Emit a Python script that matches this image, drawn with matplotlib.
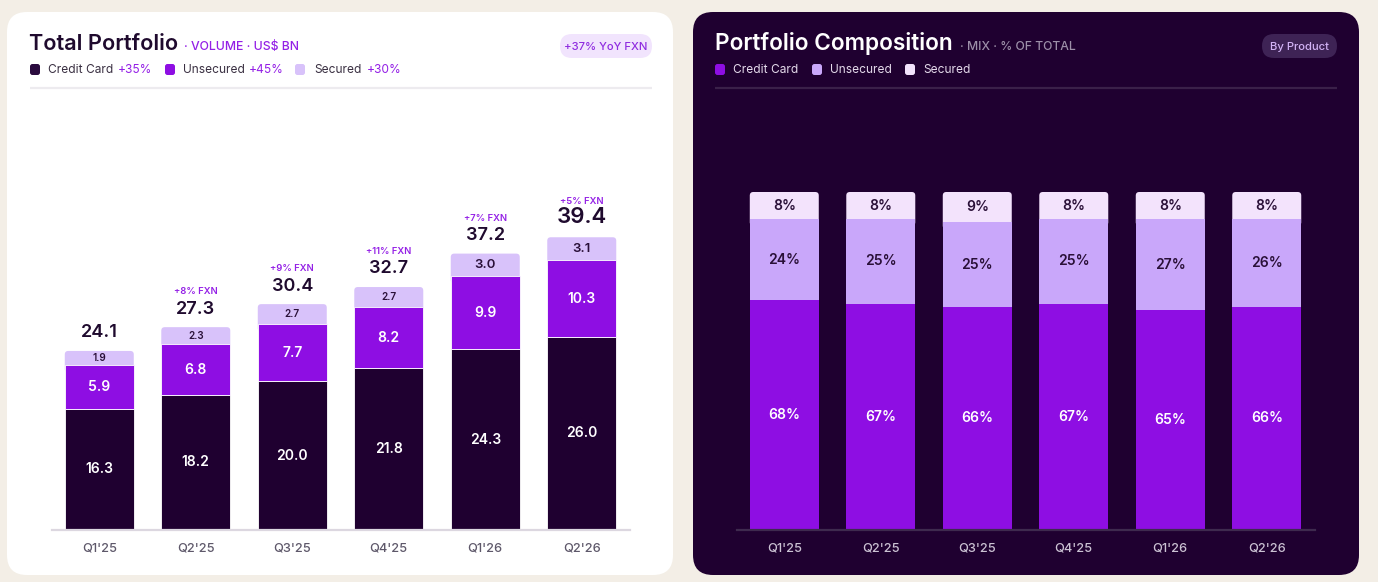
import matplotlib
matplotlib.use('Agg')
import matplotlib.pyplot as plt
from matplotlib.patches import FancyBboxPatch

# ---------------- data ----------------
quarters = ["Q1'25", "Q2'25", "Q3'25", "Q4'25", "Q1'26", "Q2'26"]
credit_card = [16.3, 18.2, 20.0, 21.8, 24.3, 26.0]
unsecured = [5.9, 6.8, 7.7, 8.2, 9.9, 10.3]
secured = [1.9, 2.3, 2.7, 2.7, 3.0, 3.1]
totals = [24.1, 27.3, 30.4, 32.7, 37.2, 39.4]
qoq_fxn = [None, "+8% FXN", "+9% FXN", "+11% FXN", "+7% FXN", "+5% FXN"]
mix_cc = [68, 67, 66, 67, 65, 66]
mix_uns = [24, 25, 25, 25, 27, 26]
mix_sec = [8, 8, 9, 8, 8, 8]
series_names = ["Credit Card", "Unsecured", "Secured"]
legend_growth = ["+35%", "+45%", "+30%"]

# ---------------- style ----------------
plt.rcParams['font.family'] = ['Inter', 'DejaVu Sans']
BG = '#F3EEE6'
DARK = '#1F0030'
PURPLE = '#8E0EE3'
LAV = '#D8C2FA'
R_UNS = '#C9A7FA'
R_SEC = '#F3E3FC'
ACCENT = '#9420E6'

W, H = 1378, 582
fig = plt.figure(figsize=(W / 100, H / 100), dpi=100)
fig.patch.set_facecolor(BG)

ov = fig.add_axes([0, 0, 1, 1], zorder=0)
ov.set_xlim(0, W)
ov.set_ylim(H, 0)
ov.axis('off')


def rbox(x0, y0, x1, y1, r, fc, z=1):
    ov.add_patch(FancyBboxPatch((x0, y0), x1 - x0, y1 - y0,
                                boxstyle=f"round,pad=0,rounding_size={r}",
                                fc=fc, ec='none', zorder=z))


# cards
rbox(7, 12, 673, 575, 20, 'white')
rbox(693, 12, 1359, 575, 20, DARK)

# ---- left header ----
ov.text(29, 50, "Total Portfolio", fontsize=15.6, fontweight='semibold', color='#1F0A2E',
        va='baseline', ha='left')
ov.text(184, 50, "· VOLUME · US$ BN", fontsize=8.8, fontweight='medium', color=ACCENT,
        va='baseline', ha='left')
rbox(560, 34, 652, 58, 12, '#F1E4FD', 2)
ov.text(606, 46.5, "+37% YoY FXN", fontsize=8.1, fontweight='medium', color='#8F2BE0',
        ha='center', va='center', zorder=3)
left_sw = ['#2A0B3E', PURPLE, LAV]
lx = [[30, 48, 118], [165, 183, 249], [295, 314, 367]]
for (sx, tx, gx), c, name, g in zip(lx, left_sw, series_names, legend_growth):
    rbox(sx, 64, sx + 10, 75, 2.5, c, 2)
    ov.text(tx, 70, name, fontsize=8.6, color='#3A3042', va='center', ha='left')
    ov.text(gx, 70, g, fontsize=8.6, color=ACCENT, va='center', ha='left')
ov.plot([30, 652], [88, 88], color='#EDEBEF', lw=1.6, solid_capstyle='butt')

# ---- right header ----
ov.text(715, 50, "Portfolio Composition", fontsize=16.3, fontweight='semibold', color='white',
        va='baseline', ha='left')
ov.text(960, 50, "· MIX · % OF TOTAL", fontsize=8.8, fontweight='medium', color='#9C8FA8',
        va='baseline', ha='left')
rbox(1262, 34, 1337, 58, 12, '#3E2355', 2)
ov.text(1299.5, 46.5, "By Product", fontsize=8.1, fontweight='medium', color='#D2B3F5',
        ha='center', va='center', zorder=3)
right_sw = [PURPLE, R_UNS, R_SEC]
rx = [[715, 733], [812, 830], [905, 923]]
for (sx, tx), c, name in zip(rx, right_sw, series_names):
    rbox(sx, 64, sx + 10, 75, 2.5, c, 2)
    ov.text(tx, 70, name, fontsize=8.6, color='#E4DAEB', va='center', ha='left')
ov.plot([715, 1337], [88, 88], color='#3A2049', lw=1.6, solid_capstyle='butt')


def fig_rect(x0, y0, x1, y1):
    return [x0 / W, 1 - y1 / H, (x1 - x0) / W, (y1 - y0) / H]


def round_tops(ax, bars, px_x, px_y, r_px=3.5, extend=1.0):
    """Replace top-segment rectangles with rounded-top boxes (bottom hidden under lower segment)."""
    for rect in bars:
        x0, y0 = rect.get_x(), rect.get_y()
        w, h = rect.get_width(), rect.get_height()
        rect.set_visible(False)
        ax.add_patch(FancyBboxPatch((x0, y0 - extend), w, h + extend,
                                    boxstyle=f"round,pad=0,rounding_size={r_px / px_x}",
                                    mutation_aspect=px_x / px_y,
                                    fc=rect.get_facecolor(), ec='none', zorder=0.5))


x = list(range(len(quarters)))
bw = 0.715
XPX = 96.5

# ---------------- left chart ----------------
LPY = 7.43
axL = fig.add_axes(fig_rect(52, 100, 630, 530), zorder=1)
axL.set_facecolor('none')
axL.set_xlim(-0.49, 5.5)
axL.set_ylim(0, 430 / LPY)
axL.bar(x, credit_card, bw, color=DARK, edgecolor='white', linewidth=0.6, zorder=1)
axL.bar(x, unsecured, bw, bottom=credit_card, color=PURPLE, edgecolor='white', linewidth=0.6, zorder=1)
bot2 = [a + b for a, b in zip(credit_card, unsecured)]
b_se = axL.bar(x, secured, bw, bottom=bot2, color=LAV)
round_tops(axL, b_se, XPX, LPY, extend=1.0)
for i in x:
    axL.text(i, credit_card[i] / 2, f"{credit_card[i]:.1f}", ha='center', va='center',
             color='white', fontsize=10, fontweight='semibold', zorder=3)
    axL.text(i, credit_card[i] + unsecured[i] / 2, f"{unsecured[i]:.1f}", ha='center', va='center',
             color='white', fontsize=10, fontweight='semibold', zorder=3)
    fs = 7.2 if secured[i] < 2.9 else 9.5
    axL.text(i, bot2[i] + secured[i] / 2, f"{secured[i]:.1f}", ha='center', va='center',
             color='#2A1038', fontsize=fs, fontweight='semibold', zorder=3)
    big = i == len(x) - 1
    axL.annotate(f"{totals[i]:.1f}", (i, totals[i]), xytext=(0, 14.5 if big else 13),
                 textcoords='offset points', ha='center', va='center',
                 fontsize=16 if big else 13, fontweight='semibold', color='#1F0A2E')
    if qoq_fxn[i]:
        axL.annotate(qoq_fxn[i], (i, totals[i]), xytext=(0, 25.5),
                     textcoords='offset points', ha='center', va='center',
                     fontsize=6.8, fontweight='semibold', color=ACCENT)

# ---------------- right chart ----------------
RPY = 3.38
axR = fig.add_axes(fig_rect(737, 100, 1315, 530), zorder=1)
axR.set_facecolor('none')
axR.set_xlim(-0.49, 5.5)
axR.set_ylim(0, 430 / RPY)
axR.bar(x, mix_cc, bw, color=PURPLE, zorder=1)
axR.bar(x, mix_uns, bw, bottom=mix_cc, color=R_UNS, zorder=1)
rb2 = [a + b for a, b in zip(mix_cc, mix_uns)]
b_rs = axR.bar(x, mix_sec, bw, bottom=rb2, color=R_SEC)
round_tops(axR, b_rs, XPX, RPY, extend=2.0)
for i in x:
    axR.text(i, mix_cc[i] / 2, f"{mix_cc[i]}%", ha='center', va='center',
             color='white', fontsize=10, fontweight='semibold', zorder=3)
    axR.text(i, mix_cc[i] + mix_uns[i] / 2, f"{mix_uns[i]}%", ha='center', va='center',
             color='#2A1038', fontsize=10, fontweight='semibold', zorder=3)
    axR.text(i, rb2[i] + mix_sec[i] / 2, f"{mix_sec[i]}%", ha='center', va='center',
             color='#2A1038', fontsize=10, fontweight='semibold', zorder=3)

for ax, spc, tc in [(axL, '#DCD7E0', '#5E586A'), (axR, '#3E2A4E', '#CBC2D3')]:
    for s in ['top', 'left', 'right']:
        ax.spines[s].set_visible(False)
    ax.spines['bottom'].set_color(spc)
    ax.spines['bottom'].set_linewidth(1.6)
    ax.spines['bottom'].set_zorder(4)
    ax.set_yticks([])
    ax.set_xticks(x)
    ax.set_xticklabels(quarters, fontsize=9.2, color=tc, fontweight='medium')
    ax.tick_params(axis='x', length=0, pad=9)

fig.savefig('out.png', dpi=100, facecolor=BG)
